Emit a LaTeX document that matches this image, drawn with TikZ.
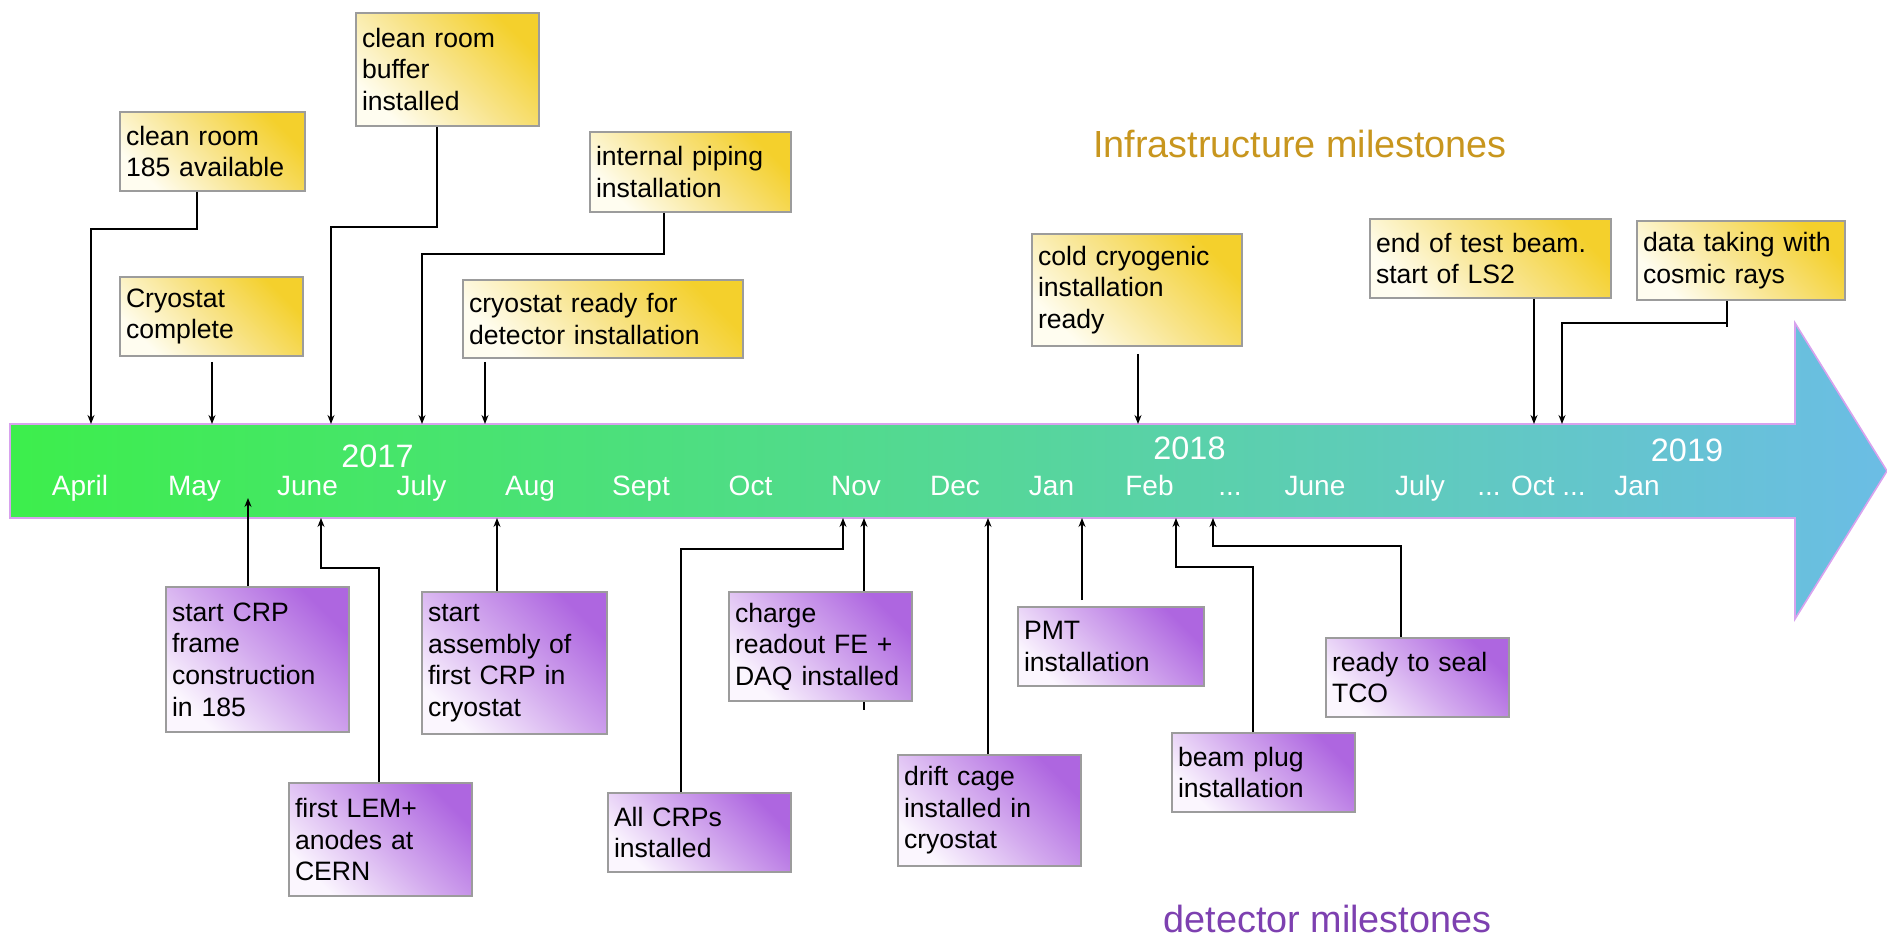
\documentclass[tikz,border=0pt]{standalone}
\usepackage{fontspec}
\setmainfont{Liberation Sans}
\usetikzlibrary{arrows.meta}
\definecolor{yhigh}{HTML}{F4D02C}
\definecolor{ymid}{HTML}{F8E48C}
\definecolor{ylow}{HTML}{FFFDF0}
\definecolor{phigh}{HTML}{AE66E0}
\definecolor{pmid}{HTML}{D3AAEE}
\definecolor{plow}{HTML}{FBF6FE}
\definecolor{arrleft}{HTML}{3DEE4C}
\definecolor{arrmid}{HTML}{54D895}
\definecolor{arrright}{HTML}{6BBDE5}
\definecolor{arrborder}{HTML}{D8A2EE}
\definecolor{boxgray}{HTML}{9C9C9C}
\definecolor{infracol}{HTML}{C8961E}
\definecolor{detcol}{HTML}{7D40B0}
\begin{document}
\begin{tikzpicture}[x=0.5pt,y=-0.5pt,
  box/.style={draw=boxgray, line width=0.9pt, inner xsep=3pt, inner ysep=0pt,
    align=left, anchor=center, font=\fontsize{13.3}{15.8}\selectfont},
  ybox/.style={box, top color=yhigh, bottom color=ylow, middle color=ymid, shading angle=-45},
  pbox/.style={box, top color=phigh, bottom color=plow, middle color=pmid, shading angle=-45},
  conn/.style={draw=black, line width=0.7pt, -{Stealth[length=4.5pt,width=3.5pt]}},
  plain/.style={draw=black, line width=0.7pt},
  month/.style={text=white, anchor=base, inner sep=0pt, font=\fontsize{14}{16}\selectfont},
  yearlbl/.style={text=white, anchor=base, inner sep=0pt, font=\fontsize{16.2}{18}\selectfont},
  title/.style={anchor=base, inner sep=0pt, font=\fontsize{18.9}{22}\selectfont}
]
\useasboundingbox (0,0) rectangle (1887,940);

% timeline arrow
\path[draw=arrborder, line width=0.8pt, left color=arrleft, right color=arrright, middle color=arrmid]
  (10,424) -- (1795,424) -- (1795,323) -- (1887,471) -- (1795,619) -- (1795,518) -- (10,518) -- cycle;
\coordinate (ttop) at (0,424);
\coordinate (tbot) at (0,518);
\coordinate (mayend) at (248,498);

% years and months
\node[yearlbl] (y17) at (377.5,468) {2017};
\node[yearlbl] (y18) at (1189.5,460) {2018};
\node[yearlbl] (y19) at (1687,462) {2019};
\node[month] (m1) at (80,496) {April};
\node[month] (m2) at (194.5,496) {May};
\node[month] (m3) at (307.5,496) {June};
\node[month] (m4) at (421.5,496) {July};
\node[month] (m5) at (530,496) {Aug};
\node[month] (m6) at (641,496) {Sept};
\node[month] (m7) at (750.5,496) {Oct};
\node[month] (m8) at (856,496) {Nov};
\node[month] (m9) at (955,496) {Dec};
\node[month] (m10) at (1051.5,496) {Jan};
\node[month] (m11) at (1149.5,496) {Feb};
\node[month] (m12) at (1230,496) {...};
\node[month] (m13) at (1315,496) {June};
\node[month] (m14) at (1420,496) {July};
\node[month] (m15) at (1531.5,496) {... Oct ...};
\node[month] (m16) at (1637,496) {Jan};

% titles
\node[title, text=infracol] (infra) at (1300,158) {Infrastructure milestones};
\node[title, text=detcol] (det) at (1327.5,933) {detector milestones};

% infrastructure boxes
\node[ybox, text width=86.5pt, minimum height=39.5pt] (t1) at (212.5,151.5) {clean room\\185 available};
\node[ybox, text width=85.5pt, minimum height=56.5pt] (t2) at (447.5,69.5) {clean room\\buffer\\installed};
\node[ybox, text width=94.5pt, minimum height=40pt] (t3) at (690.5,172) {internal piping\\installation};
\node[ybox, text width=85.5pt, minimum height=39.5pt] (t4) at (211.5,316.5) {Cryostat\\complete};
\node[ybox, text width=134pt, minimum height=39pt] (t5) at (603,319) {cryostat ready for\\detector installation};
\node[ybox, text width=99pt, minimum height=56pt] (t6) at (1137,290) {cold cryogenic\\installation\\ready};
\node[ybox, text width=114.5pt, minimum height=39.5pt] (t7) at (1490.5,258.5) {end of test beam.\\start of LS2};
\node[ybox, text width=98pt, minimum height=39.5pt] (t8) at (1741,260.5) {data taking with\\cosmic rays};

% detector boxes
\node[pbox, text width=85.5pt, minimum height=72.5pt] (b1) at (257.5,659.5) {start CRP\\frame\\construction\\in 185};
\node[pbox, text width=85.5pt, minimum height=56.5pt] (b2) at (380.5,839.5) {first LEM+\\anodes at\\CERN};
\node[pbox, text width=86.5pt, minimum height=71pt] (b3) at (514.5,663) {start\\assembly of\\first CRP in\\cryostat};
\node[pbox, text width=85.5pt, minimum height=39.5pt] (b4) at (699.5,832.5) {All CRPs\\installed};
\node[pbox, text width=85.5pt, minimum height=54.5pt] (b5) at (820.5,646.5) {charge\\readout FE +\\DAQ installed};
\node[pbox, text width=85.5pt, minimum height=55.5pt] (b6) at (989.5,810.5) {drift cage\\installed in\\cryostat};
\node[pbox, text width=87pt, minimum height=39.5pt] (b7) at (1111,646.5) {PMT\\installation};
\node[pbox, text width=85.5pt, minimum height=39.5pt] (b8) at (1263.5,772.5) {beam plug\\installation};
\node[pbox, text width=85.5pt, minimum height=39.5pt] (b9) at (1417.5,677.5) {ready to seal\\TCO};

% infrastructure connectors
\draw[conn] (t1.south -| 197,0) |- (91,229) -- (91,0 |- ttop);
\draw[conn] (t2.south -| 437,0) |- (331,227) -- (331,0 |- ttop);
\draw[conn] (t3.south -| 664,0) |- (422,254) -- (422,0 |- ttop);
\draw[conn, shorten <=2.5pt] (t4.south -| 212,0) -- (212,0 |- ttop);
\draw[conn, shorten <=1.5pt] (t5.south -| 485,0) -- (485,0 |- ttop);
\draw[conn, shorten <=3.5pt] (t6.south -| 1138,0) -- (1138,0 |- ttop);
\draw[conn] (t7.south -| 1534,0) -- (1534,0 |- ttop);
\draw[plain] (t8.south -| 1727,0) -- (1727,327);
\draw[conn] (1727,323) -| (1562,0 |- ttop);

% detector connectors
\draw[conn] (b1.north -| 248,0) -- (mayend);
\draw[conn] (b2.north -| 379,0) |- (321,568) -- (321,0 |- tbot);
\draw[conn] (b3.north -| 497,0) -- (497,0 |- tbot);
\draw[conn] (b4.north -| 681,0) |- (843,549) -- (843,0 |- tbot);
\draw[conn] (b5.north -| 864,0) -- (864,0 |- tbot);
\draw[plain] (b5.south -| 864,0) -- ++(0,8);
\draw[conn] (b6.north -| 988,0) -- (988,0 |- tbot);
\draw[conn, shorten <=3pt] (b7.north -| 1082,0) -- (1082,0 |- tbot);
\draw[conn] (b8.north -| 1253,0) |- (1176,567) -- (1176,0 |- tbot);
\draw[conn] (b9.north -| 1401,0) |- (1213,546) -- (1213,0 |- tbot);
\end{tikzpicture}
\end{document}
